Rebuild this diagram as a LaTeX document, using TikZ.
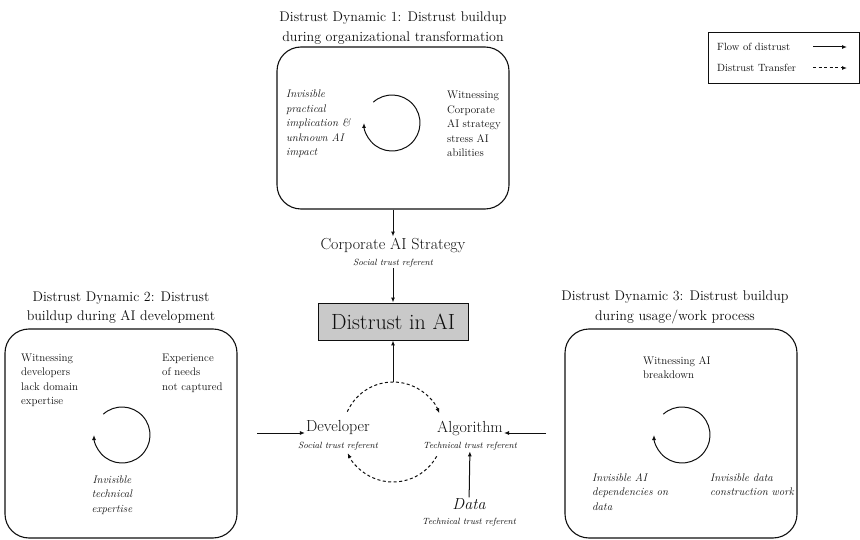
\documentclass[tikz,border=0pt]{standalone}
\usepackage{tikz}
\usetikzlibrary{
    arrows.meta,
    positioning
}
\usepackage{xcolor}
\definecolor{boxgray}{RGB}{201,201,201}
\definecolor{inkgray}{RGB}{15,15,15}

\begin{document}
\begin{tikzpicture}[
    x=1pt, y=1pt,
    color=inkgray,
    dynbox/.style={
        rectangle, rounded corners=24pt, draw, line width=1.1pt,
        minimum width=232pt, minimum height=209pt
    },
    title/.style={align=center, inner sep=0pt, font=\fontsize{14}{19.5}\selectfont},
    note/.style={align=left, anchor=west, inner sep=0pt, font=\fontsize{11}{14.5}\selectfont},
    inote/.style={note, font=\fontsize{11}{14.5}\selectfont\itshape},
    referent/.style={inner sep=1pt, font=\fontsize{16}{18}\selectfont},
    sublabel/.style={inner sep=1pt, font=\fontsize{9}{11}\selectfont\itshape},
    flow/.style={-{Latex[length=5pt,width=4pt]}, line width=1pt},
    transfer/.style={flow, dash pattern=on 3pt off 2.5pt},
    loopline/.style={-{Latex[length=5pt,width=4pt]}, line width=1pt}
]
\useasboundingbox (0,0) rectangle (860,539);

% Dynamic 1 (top)
\node[title] (title1) at (393, 511) {Distrust Dynamic 1: Distrust buildup\\during organizational transformation};
\node[dynbox, minimum height=162pt] (box1) at (393, 411) {};
\node[inote] (inv1) at (286, 415) {Invisible\\practical\\implication \&\\unknown AI\\impact};
\node[note] (wit1) at (447, 415) {Witnessing\\Corporate\\AI strategy\\stress AI\\abilities};
\draw[loopline] (392, 416) ++(132:28) arc (132:-180:28);

% Dynamic 2 (left)
\node[title] (title2) at (121, 231.5) {Distrust Dynamic 2: Distrust\\buildup during AI development};
\node[dynbox] (box2) at (121, 105.5) {};
\node[note] (wit2) at (21, 158.5) {Witnessing\\developers\\lack domain\\expertise};
\node[note] (exp2) at (162, 166) {Experience\\of needs\\not captured};
\node[inote, anchor=center, align=center] (inv2) at (112, 44) {Invisible\\technical\\expertise};
\draw[loopline] (122, 104) ++(132:28) arc (132:-180:28);

% Dynamic 3 (right)
\node[title] (title3) at (675, 231.5) {Distrust Dynamic 3: Distrust buildup\\during usage/work process};
\node[dynbox] (box3) at (681, 105.5) {};
\node[note] (wit3) at (643, 171.5) {Witnessing AI\\breakdown};
\node[inote] (inv3) at (592, 47) {Invisible AI\\dependencies on\\data};
\node[inote] (dat3) at (710, 54.5) {Invisible data\\construction work};
\draw[loopline] (682, 104) ++(132:28) arc (132:-180:28);

% Trust referents
\node[referent] (corp) at (393, 294) {Corporate AI Strategy};
\node[sublabel] (corpsub) at (393, 276) {Social trust referent};
\node[draw, line width=0.9pt, fill=boxgray, minimum width=150pt, minimum height=37pt,
      font=\fontsize{22}{26}\selectfont] (distrust) at (393, 217.5) {Distrust in AI};
\node[referent] (dev) at (338, 111) {Developer};
\node[sublabel] (devsub) at (338, 93) {Social trust referent};
\node[referent] (alg) at (470, 111) {Algorithm};
\node[sublabel] (algsub) at (470, 93) {Technical trust referent};
\node[referent, font=\fontsize{16}{18}\selectfont\itshape] (data) at (469, 35) {Data};
\node[sublabel] (datasub) at (469, 17) {Technical trust referent};

\coordinate (loop) at (393, 107);
\coordinate (looptop) at (393, 157);
\coordinate (devin) at (257, 106);
\coordinate (algin) at (546, 106);

% Flow of distrust
\draw[flow] (box1) -- (corp);
\draw[flow] (corpsub) -- (distrust);
\draw[flow] (looptop) -- (distrust);
\draw[flow] (devin) -- (devin -| dev.west);
\draw[flow] (algin) -- (algin -| alg.east);
\draw[flow] (data) -- (algsub);

% Distrust transfer
\draw[transfer] (loop) ++(156:50) arc (156:22:50);
\draw[transfer] (loop) ++(-29:50) arc (-29:-155:50);

% Legend
\node[draw, line width=0.9pt, minimum width=151pt, minimum height=51pt] (legend) at (783.5, 481.5) {};
\node[note, font=\fontsize{10.5}{12}\selectfont] (flowkey) at (717, 492) {Flow of distrust};
\node[note, font=\fontsize{10.5}{12}\selectfont] (transkey) at (717, 471) {Distrust Transfer};
\coordinate (flowend) at (847, 492);
\coordinate (transend) at (847, 471);
\draw[flow] (flowend -| 813, 0) -- (flowend);
\draw[transfer] (transend -| 813, 0) -- (transend);

\end{tikzpicture}
\end{document}
